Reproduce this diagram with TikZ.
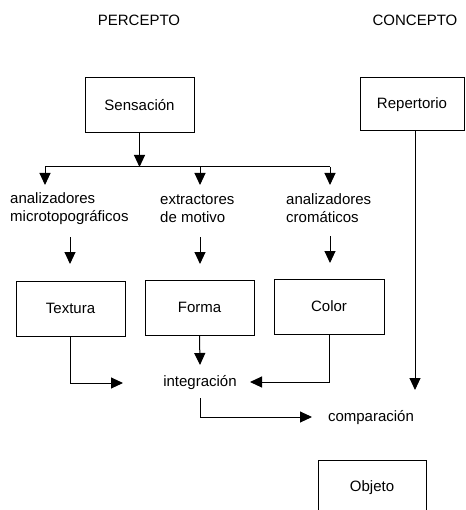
\documentclass[tikz,border=0pt]{standalone}
\usepackage{fontspec}
\setmainfont{Liberation Sans}
\usetikzlibrary{arrows.meta}
\begin{document}
\begin{tikzpicture}[x=1pt,y=-1pt,
  every node/.style={font=\fontsize{15}{18}\selectfont, inner sep=0pt},
  box/.style={draw, line width=1pt, minimum width=109pt, minimum height=55pt},
  lbl/.style={align=left, anchor=west},
  link/.style={line width=1pt},
  arr/.style={line width=1pt, -{Triangle[length=12pt,width=11pt]}}]
  \clip (0,0) rectangle (465,510);

  % headings
  \node (perc) at (139,20) {PERCEPTO};
  \node (conc) at (415,20) {CONCEPTO};

  % boxes
  \node[box] (sens) at (139.5,105.5) {Sensación};
  \node[box, minimum width=104pt, minimum height=53pt] (rep) at (412,104.5) {Repertorio};
  \node[box] (tex) at (70.5,308.5) {Textura};
  \node[box] (forma) at (199.5,307.5) {Forma};
  \node[box, minimum width=110pt] (col) at (329,306.5) {Color};
  \node[box, minimum width=108pt, minimum height=56pt] (obj) at (372,488) {Objeto};

  % analyser labels
  \node[lbl] (anmic) at (10,209) {analizadores\\microtopográficos};
  \node[lbl] (extr) at (160,209) {extractores\\de motivo};
  \node[lbl] (ancro) at (286,208) {analizadores\\cromáticos};

  % process labels
  \node (integ) at (200,383) {integración};
  \node (comp) at (371,418) {comparación};

  % branching bus below Sensación
  \coordinate (busL) at (45,167);
  \coordinate (busM) at (200,167);
  \coordinate (busR) at (330,167);
  \draw[arr] (sens.south) -- (sens.south |- busL);
  \draw[link] (busL) -- (busR);
  \draw[arr] (busL) -- ++(0,18);
  \draw[arr] (busM) -- ++(0,18);
  \draw[arr] (busR) -- ++(0,18);

  % labels down to the feature boxes
  \coordinate (a1) at (70,237);
  \coordinate (a2) at (200,237);
  \coordinate (a3) at (330,236);
  \draw[arr] (a1) -- ++(0,27);
  \draw[arr] (a2) -- ++(0,27);
  \draw[arr] (a3) -- ++(0,27);

  % feature boxes into integration
  \coordinate (inL) at (123,383);
  \coordinate (inT) at (200,365);
  \coordinate (inR) at (250,382);
  \draw[arr] (tex.south) |- (inL);
  \draw[arr] (forma.south) -- (inT);
  \draw[arr] (col.south) |- (inR);

  % integration to comparison
  \coordinate (cmpL) at (312,417);
  \draw[arr] (integ.south) ++(0,8) |- (cmpL);

  % repertoire down to comparison
  \coordinate (repT) at (415,390);
  \draw[arr] (rep.south -| repT) -- (repT);
\end{tikzpicture}
\end{document}
